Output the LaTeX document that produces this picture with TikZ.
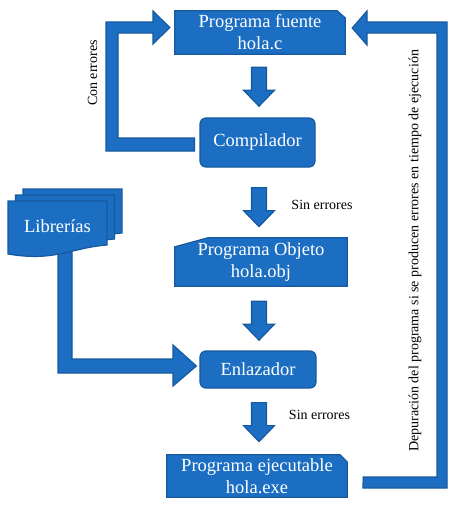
\documentclass[tikz,border=0pt]{standalone}
\usepackage{fontspec}
\setmainfont{Liberation Serif}
\usetikzlibrary{calc,backgrounds}
\definecolor{boxblue}{HTML}{1B6EC2}
\definecolor{boxline}{HTML}{17599E}

\begin{document}
\begin{tikzpicture}[x=1pt,y=-1pt,
    blk/.style={fill=boxblue,draw=boxline,line width=1.2pt,line join=miter},
    txt/.style={text=white,align=center,inner sep=0pt,font=\fontsize{18.5}{22}\selectfont},
    lbl/.style={font=\fontsize{14}{16}\selectfont,inner sep=0pt},
    fatdown/.pic={\draw[blk] (-7.5,0) -- (7.5,0) -- (7.5,23) -- (15.5,23) -- (0,39) -- (-15.5,23) -- (-7.5,23) -- cycle;},
    libdoc/.pic={\draw[blk] (0,0) -- (99,0) -- (99,44) .. controls (62,47) and (47,61) .. (0,53) -- cycle;}]
    \useasboundingbox (0,0) rectangle (458,507);
    \node[txt,minimum width=170pt,minimum height=43pt] (fuente) at (260,32.5) {Programa fuente\\hola.c};
    \node[txt,blk,rounded corners=6pt,minimum width=115pt,minimum height=49pt] (comp) at (257.5,142.5) {Compilador};
    \node[txt,minimum width=172pt,minimum height=48pt] (obj) at (261,262) {Programa Objeto\\hola.obj};
    \node[txt,blk,rounded corners=6pt,minimum width=116pt,minimum height=37pt] (enl) at (258,369.5) {Enlazador};
    \node[txt,minimum width=180pt,minimum height=42pt] (exe) at (257,476) {Programa ejecutable\\hola.exe};
    \node[txt,minimum width=99pt,minimum height=50pt] (libs) at (57.5,226) {Librerías};
    \begin{scope}[on background layer]
    \draw[blk] (fuente.south west) -- (fuente.north west) -- ($(fuente.north east)+(-8,0)$) -- ($(fuente.north east)+(0,7)$) -- (fuente.south east) -- cycle;
    \draw[blk] (obj.south west) -- ($(obj.north west)+(0,9)$) -- ($(obj.north west)+(33,0)$) -- (obj.north east) -- (obj.south east) -- cycle;
    \draw[blk] (exe.south west) -- (exe.north west) -- ($(exe.north east)+(-7,0)$) -- ($(exe.north east)+(0,7)$) -- (exe.south east) -- cycle;
    \draw[blk] ($(libs.south)+(0.5,-3)$) -- (58,373) -- (173,373) -- (173,386) -- ($(enl.west)+(-3,-3.5)$) -- (173,345) -- (173,359) -- (72,359) -- (72,248) -- cycle;
    \pic at (23,189) {libdoc};
    \pic at (15.5,195) {libdoc};
    \pic at (8,201) {libdoc};
    \end{scope}
    \pic at ($(fuente.south)+(-1,13)$) {fatdown};
    \pic at ($(comp.south)+(1.5,20)$) {fatdown};
    \pic at ($(obj.south)+(-2,15)$) {fatdown};
    \pic at ($(enl.south)+(1,14)$) {fatdown};
    \draw[blk] ($(comp.west)+(-5,-4.5)$) -- ++(0,13) -- (106,151) -- (106,22) -- (153,22) -- (153,11) -- ($(fuente.west)+(-5,-5)$) -- (153,44) -- (153,33) -- (118,33) -- (118,138) -- cycle;
    \draw[blk] ($(exe.east)+(16,1)$) -- (437,477) -- (437,33) -- (367,33) -- (367,45) -- ($(fuente.east)+(7,-4.5)$) -- (367,11) -- (367,22) -- (447,22) -- (447,488) -- (363,488) -- cycle;
    \node[lbl] (sin1) at (322,205) {Sin errores};
    \node[lbl] (sin2) at (319.5,415) {Sin errores};
    \node[lbl,rotate=90] (con) at (92.5,73) {Con errores};
    \node[lbl,rotate=90] (dep) at (415,251) {Depuración del programa si se producen errores en tiempo de ejecución};
\end{tikzpicture}
\end{document}
